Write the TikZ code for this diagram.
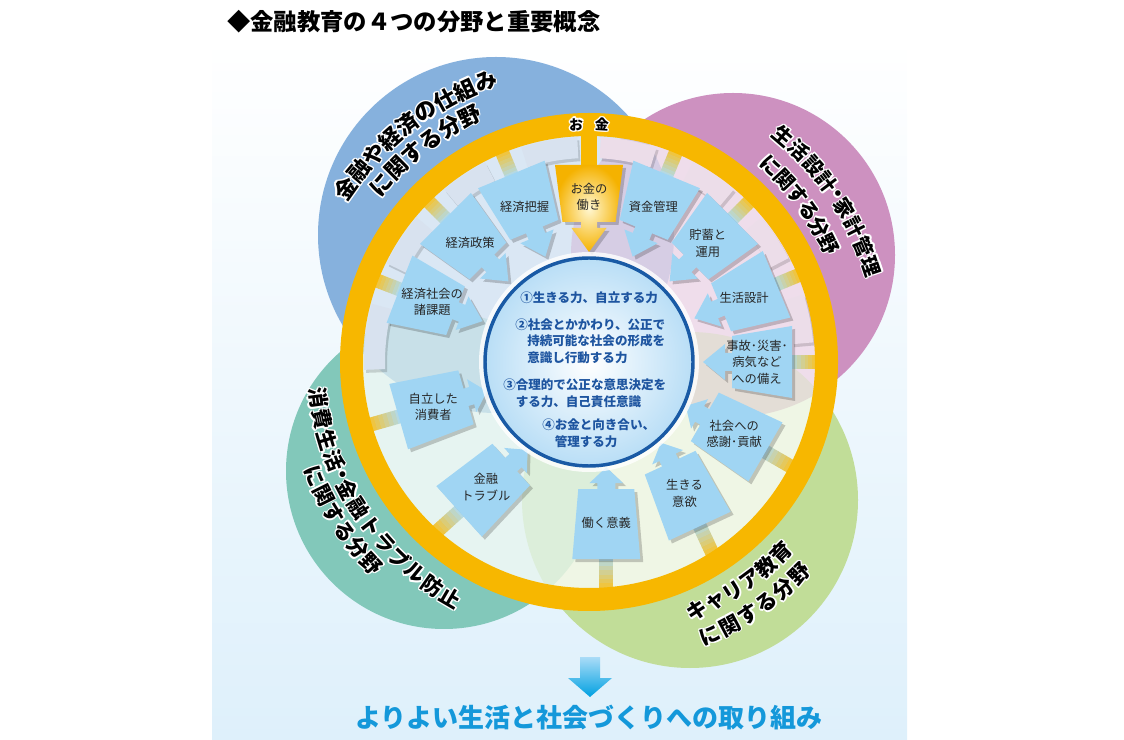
\documentclass[tikz,border=0pt]{standalone}
\usepackage{fontspec}
\setmainfont{Noto Sans CJK JP}
\usetikzlibrary{calc}

\definecolor{ringY}{RGB}{247,183,0}
\definecolor{yelLight}{RGB}{255,247,210}
\definecolor{yelDeep}{RGB}{245,178,0}
\definecolor{arrowB}{RGB}{160,213,243}
\definecolor{circBlue}{RGB}{134,177,221}
\definecolor{circPink}{RGB}{205,145,192}
\definecolor{circTeal}{RGB}{130,200,186}
\definecolor{circGreen}{RGB}{193,221,152}
\definecolor{keyBorder}{RGB}{25,90,165}
\definecolor{keyFill}{RGB}{185,222,246}
\definecolor{keyText}{RGB}{30,85,160}
\definecolor{goalBlue}{RGB}{20,152,218}
\definecolor{goalLight}{RGB}{170,220,247}
\definecolor{goalDeep}{RGB}{0,160,225}
\definecolor{panelBlue}{RGB}{222,240,251}
\definecolor{bandBlue}{RGB}{216,226,239}
\definecolor{bandPink}{RGB}{236,221,233}

\newcommand\arrowpath[7]{(0,#1) -- (#3,#2) -- (#3,#4) -- ({#3+#5},#4) -- ({#3+#5},#6) -- ({#3+#5+#7},0) -- ({#3+#5},-#6) -- ({#3+#5},-#4) -- (#3,-#4) -- (#3,-#2) -- (0,-#1) -- cycle}

\newcommand\arcword[7]{%
  \foreach \ch/\p [count=\i] in {#7}{%
    \pgfmathsetmacro\ang{#3+\p*(#4)}%
    \pgfmathsetmacro\rot{\ang+(#5)}%
    \coordinate (#1-\i) at ($(C)+(\ang:#2)$);%
    \foreach \hx/\hy [count=\j] in {1.1/0,-1.1/0,0/1.1,0/-1.1,.8/.8,-.8/.8,.8/-.8,-.8/-.8}{%
      \node[arcch=#6, text=white, rotate=\rot, xshift=\hx pt, yshift=\hy pt] (#1-\i-h\j) at (#1-\i) {\ch};}%
    \node[arcch=#6, rotate=\rot] (#1-\i-c) at (#1-\i) {\ch};%
  }}

\newcommand\toparrows{159/kadai/{経済社会の\\諸課題}, 135/seisaku/{経済政策}, 112.5/haaku/{経済把握},
  67.5/shikin/{資金管理}, 45/chochiku/{貯蓄と\\運用}, 22.5/sekkei/{生活設計},
  0/sonae/{事故･災害･\\病気など\\への備え}}
\newcommand\botarrows{-27/150/kansha/{社会への\\感謝･貢献}, -56/115/iyoku/{生きる\\意欲},
  -85/90/igi/{働く意義}, -131/42/trouble/{金融\\トラブル}, 196/16/jiritsu/{自立した\\消費者}}

\begin{document}
\begin{tikzpicture}[x=0.75pt, y=0.75pt,
    lbl/.style={inner sep=0pt, align=center, text=black!85, font=\fontsize{9.2}{12.4}\selectfont},
    keyline/.style={inner sep=0pt, anchor=west, text=keyText, font=\bfseries\fontsize{9.4}{11}\selectfont},
    arcch/.style={inner sep=0pt, text=black, font=\bfseries\fontsize{#1}{#1}\selectfont}]
  \useasboundingbox (0,0) rectangle (1124,739);
  \coordinate (C) at (589,377);

  \shade[top color=white, bottom color=panelBlue] (212,0) rectangle (907,700);

  \fill[circBlue] (496,504) circle (178);
  \fill[circPink] (733,484) circle (162);
  \fill[circTeal] (444,268) circle (158);
  \fill[circGreen] (690,239) circle (168);

  \begin{scope}
    \clip (C) circle (227);
    \fill[white] (C) circle (227);
    \fill[circBlue, opacity=.3] (496,504) circle (178);
    \fill[circPink, opacity=.3] (733,484) circle (162);
    \fill[circTeal, opacity=.2] (444,268) circle (158);
    \fill[circGreen, opacity=.25] (690,239) circle (168);
  \end{scope}

  \begin{scope}[shift={(C)}]
    \foreach \a/\b/\c in {5/17.5/bandPink, 27.5/40/bandPink, 50/62.5/bandPink, 72.5/87/bandPink,
                          93/107.5/bandBlue, 117.5/130/bandBlue, 140/154/bandBlue, 165/182/bandBlue}{
      \fill[black, opacity=.15, shift={(2,-3)}] (\a:225) arc[start angle=\a, end angle=\b, radius=225]
        -- (\b:204) arc[start angle=\b, end angle=\a, radius=204] -- cycle;
      \fill[\c] (\a:225) arc[start angle=\a, end angle=\b, radius=225]
        -- (\b:204) arc[start angle=\b, end angle=\a, radius=204] -- cycle;
    }
  \end{scope}

  \foreach \pa/\nm/\txt in \toparrows{
    \pgfmathsetmacro\da{\pa+180}
    \begin{scope}[shift={($(C)+(\pa:203)$)}, rotate=\da]
      \foreach \k in {0,...,7}{
        \pgfmathsetmacro\mix{100-\k*13}
        \fill[ringY!\mix!arrowB!85!white] ({-27+\k*3.6},-7) rectangle ({-23+\k*3.6},7);
      }
    \end{scope}
  }
  \foreach \pa/\da/\nm/\txt in \botarrows{
    \begin{scope}[shift={($(C)+(\pa:198)$)}, rotate=\da]
      \foreach \k in {0,...,7}{
        \pgfmathsetmacro\mix{100-\k*13}
        \fill[ringY!\mix!arrowB!85!white] ({-33+\k*4.4},-7) rectangle ({-28.2+\k*4.4},7);
      }
    \end{scope}
  }

  \fill[ringY, even odd rule] (C) circle (249) (C) circle (226);

  \foreach \pa/\nm/\txt in \toparrows{
    \pgfmathsetmacro\da{\pa+180}
    \begin{scope}[shift={($(C)+(\pa:203)+(3,-3)$)}, rotate=\da]
      \fill[black, opacity=.2] \arrowpath{36}{26}{60}{9}{7}{18}{22};
    \end{scope}
    \begin{scope}[shift={($(C)+(\pa:203)$)}, rotate=\da]
      \fill[arrowB] \arrowpath{36}{26}{60}{9}{7}{18}{22};
    \end{scope}
    \node[lbl] (\nm) at ($(C)+(\pa:168)$) {\txt};
  }

  \foreach \pa/\da/\nm/\txt in \botarrows{
    \begin{scope}[shift={($(C)+(\pa:198)+(3,-3)$)}, rotate=\da]
      \fill[black, opacity=.2] \arrowpath{34}{28}{70}{9}{6}{17}{16};
    \end{scope}
    \begin{scope}[shift={($(C)+(\pa:198)$)}, rotate=\da]
      \fill[arrowB] \arrowpath{34}{28}{70}{9}{6}{17}{16};
    \end{scope}
    \node[lbl] (\nm) at ($(C)+(\pa:198)+(\da:36)$) {\txt};
  }

  \fill[ringY] (581,603) rectangle (597,572);
  \begin{scope}[shift={(592,571)}, rotate=270]
    \fill[black, opacity=.2] \arrowpath{34}{26.5}{57}{8}{6}{17.5}{24};
  \end{scope}
  \begin{scope}[shift={(589,574)}, rotate=270]
    \shade[inner color=yelLight, outer color=yelDeep] \arrowpath{34}{26.5}{57}{8}{6}{17.5}{24};
  \end{scope}
  \node[lbl] (hataraki) at (589,542) {お金の\\働き};

  \fill[white, opacity=.8] (C) circle (110);
  \shade[inner color=white, outer color=keyFill] (C) circle (104);
  \draw[keyBorder, line width=2.6pt] (C) circle (104);

  \node[keyline] (k1)  at (520,441)   {①生きる力、自立する力};
  \node[keyline] (k2)  at (515,414)   {②社会とかかわり、公正で};
  \node[keyline] (k2b) at (527,398)   {持続可能な社会の形成を};
  \node[keyline] (k2c) at (527,381)   {意識し行動する力};
  \node[keyline] (k3)  at (503,354)   {③合理的で公正な意思決定を};
  \node[keyline] (k3b) at (515.5,337) {する力、自己責任意識};
  \node[keyline] (k4)  at (542,314)   {④お金と向き合い、};
  \node[keyline] (k4b) at (554.5,297) {管理する力};

  \arcword{okane}{238}{93.1}{-6.2}{-90}{10.5}{お/0,金/1}
  \arcword{fa}{299}{144.6}{-4.3}{-90}{16.5}{金/0,融/1,や/2,経/3,済/4,の/5,仕/6,組/7,み/8}
  \arcword{fb}{273}{139.6}{-4.73}{-90}{16.5}{に/0,関/1,す/2,る/3,分/4,野/5}
  \arcword{fc}{298}{49.3}{-4.07}{-90}{15}{生/0,活/1,設/2,計/3,・/3.75,家/4.5,計/5.5,管/6.5,理/7.5}
  \arcword{fd}{267}{47.2}{-4.2}{-90}{15}{に/0,関/1,す/2,る/3,分/4,野/5}
  \arcword{fe}{273}{187.6}{4.52}{90}{15.5}{消/0,費/1,生/2,活/3,・/3.75,金/4.5,融/5.5,ト/6.5,ラ/7.5,ブ/8.5,ル/9.5,防/10.5,止/11.5}
  \arcword{ff}{297}{202.6}{4.05}{90}{15.5}{に/0,関/1,す/2,る/3,分/4,野/5}
  \arcword{fg}{271}{-66.5}{4.35}{90}{15.5}{キ/0,ャ/1,リ/2,ア/3,教/4,育/5}
  \arcword{fh}{299}{-66.1}{4.17}{90}{15.5}{に/0,関/1,す/2,る/3,分/4,野/5}

  \node[anchor=west, inner sep=0pt, font=\bfseries\fontsize{17.5}{20}\selectfont] (title) at (227,717) {◆金融教育の４つの分野と重要概念};

  \shade[top color=goalLight, bottom color=goalDeep] (580,82) -- (600,82) -- (600,61) -- (612,61)
    -- (590,42) -- (568,61) -- (580,61) -- cycle;
  \node[inner sep=0pt, text=goalBlue, font=\bfseries\fontsize{19.5}{22}\selectfont] (goal) at (589,21) {よりよい生活と社会づくりへの取り組み};
\end{tikzpicture}
\end{document}
